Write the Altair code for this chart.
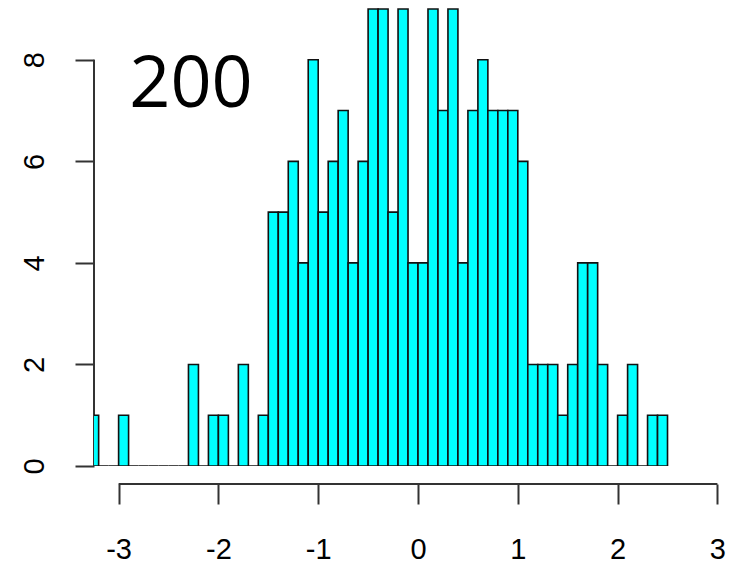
import altair as alt
import pandas as pd

# Histogram of 200 values, bin width 0.1, first bin starts at -3.3
bin_first = -3.3
bin_width = 0.1
counts = [1, 0, 0, 1, 0, 0, 0, 0, 0, 0,
          2, 0, 1, 1, 0, 2, 0, 1, 5, 5,
          6, 4, 8, 5, 6, 7, 4, 6, 9, 9,
          5, 9, 4, 4, 9, 7, 9, 4, 7, 8,
          7, 7, 7, 6, 2, 2, 2, 1, 2, 4,
          4, 2, 0, 1, 2, 0, 1, 1]
x_ticks = [-3, -2, -1, 0, 1, 2, 3]
y_ticks = [0, 2, 4, 6, 8]
label_text = ["200"]
label_x = [-2.275]
label_y = [7.08]

starts = [round(bin_first + i * bin_width, 2) for i in range(len(counts))]
ends = [round(s + bin_width, 2) for s in starts]
bars = pd.DataFrame({"start": starts, "end": ends, "count": counts})
label_df = pd.DataFrame({"text": label_text, "x": label_x, "y": label_y})
xdom_df = pd.DataFrame({"a": [x_ticks[0]], "b": [x_ticks[-1]]})
ydom_df = pd.DataFrame({"a": [y_ticks[0]], "b": [y_ticks[-1]]})

W, H = 632, 458
XDOM = [-3.2465, 3.086]
YDOM = [0, 9.02]
FONT = "Liberation Sans"
LINE = "#333333"

xscale = alt.Scale(domain=XDOM, nice=False, zero=False)
yscale = alt.Scale(domain=YDOM, nice=False, zero=False)

xaxis = alt.Axis(values=x_ticks, domain=False, grid=False, offset=18, tickSize=20,
                 tickWidth=2, tickColor=LINE, labelFont=FONT, labelFontSize=29,
                 labelColor="black", labelPadding=31, title=None,
                 labelExpr="toString(datum.value)")
yaxis = alt.Axis(values=y_ticks, domain=False, grid=False, tickSize=19, tickWidth=2,
                 tickColor=LINE, labelFont=FONT, labelFontSize=29, labelColor="black",
                 labelAngle=270, labelAlign="center", labelBaseline="alphabetic",
                 labelPadding=32, title=None, labelExpr="toString(datum.value)")

ydomain_line = alt.Chart(ydom_df).mark_rule(color=LINE, strokeWidth=2).encode(
    x=alt.value(0),
    y=alt.Y("a:Q", scale=yscale, axis=yaxis),
    y2="b:Q",
)

hist = alt.Chart(bars).mark_rect(fill="#00FFFF", stroke="#111111", strokeWidth=1.6,
                                 clip=True).encode(
    x=alt.X("start:Q", scale=xscale, axis=xaxis),
    x2="end:Q",
    y=alt.Y("count:Q", scale=yscale),
    y2=alt.datum(0),
)

xdomain_line = alt.Chart(xdom_df).mark_rule(color=LINE, strokeWidth=2).encode(
    x=alt.X("a:Q", scale=xscale),
    x2="b:Q",
    y=alt.value(H + 18),
)

label = alt.Chart(label_df).mark_text(font="Open Sans", fontSize=72, color="black",
                                      align="center", baseline="alphabetic").encode(
    x=alt.X("x:Q", scale=xscale),
    y=alt.Y("y:Q", scale=yscale),
    text="text:N",
)

chart = alt.layer(ydomain_line, hist, xdomain_line, label).properties(
    width=W, height=H,
    background="white",
    autosize=alt.AutoSizeParams(type="none"),
    padding={"left": 86, "top": 0, "right": 0, "bottom": 98},
).configure_view(strokeWidth=0, stroke="transparent")

chart.save("out.html", embed_options={"renderer": "svg", "actions": False})
